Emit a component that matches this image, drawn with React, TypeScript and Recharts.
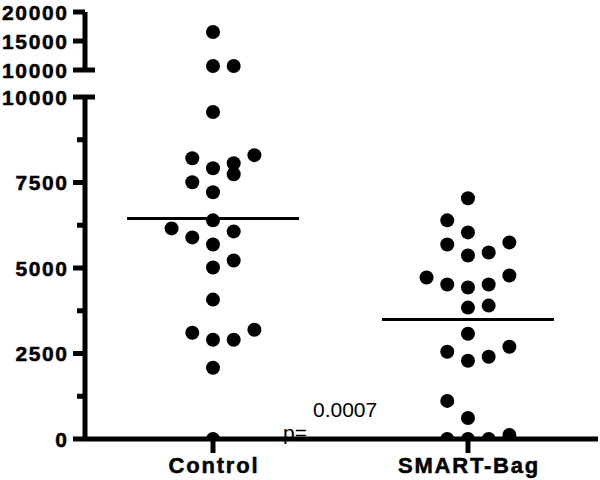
import { ScatterChart, Scatter, XAxis, YAxis } from 'recharts';

// values, with the column slot each dot sits in
const categories = ['Control', 'SMART-Bag'];

const controlValues = [
    16550, 10690, 10690, 9560, 8299, 8211, 8064, 7918, 7742, 7507, 7214, 6393, 6158,
    6070, 5894, 5689, 5220, 5015, 4076, 3196, 3108, 2903, 2903, 2082, 0,
];
const controlSlots = [0, 0, 1, 0, 2, -1, 1, 0, 1, -1, 0, 0, -2, 1, -1, 0, 1, 0, 0, 2, -1, 0, 1, 0, 0];

const smartValues = [
    7038, 6393, 6041, 5748, 5689, 5455, 5367, 4780, 4721, 4516, 4516, 4428, 3900, 3842,
    3079, 2698, 2551, 2405, 2287, 1114, 616, 117, 0, 0, 0,
];
const smartSlots = [0, -1, 0, 2, -1, 1, 0, 2, -2, -1, 1, 0, 1, 0, 0, 2, -1, 1, 0, -1, 0, 2, -1, 0, 1];

const upperTicks = [10000, 15000, 20000];
const lowerTicks = [0, 1250, 2500, 3750, 5000, 6250, 7500, 8750, 10000];
const BREAK = 10000;
const pText = 'p=';
const pValue = '0.0007';

const SLOT_STEP = 0.0812;
const FONT = '"Liberation Sans", Arial, sans-serif';
const AXIS_W = 5;

const groups = [controlValues, smartValues].map((vals, i) => {
    const slots = i === 0 ? controlSlots : smartSlots;
    return vals.map((v, j) => ({ x: i + slots[j] * SLOT_STEP, y: v }));
});
const means = [controlValues, smartValues].map((vals, i) => ({
    x: i,
    y: vals.reduce((a, b) => a + b, 0) / vals.length,
}));

const dot = (props: any) => <circle cx={props.cx} cy={props.cy} r={7} fill="#000" />;
const meanLine = (props: any) => (
    <line x1={props.cx - 86} x2={props.cx + 86} y1={props.cy} y2={props.cy} stroke="#000" strokeWidth={3} />
);

const YTick = (props: any) => {
    const { x, y, payload } = props;
    const v = payload.value;
    const major = v % 2500 === 0;
    const isBreak = v === BREAK;
    return (
        <g>
            <line
                x1={major ? x - 12 : x - 8}
                x2={isBreak ? x + 10 : x}
                y1={y}
                y2={y}
                stroke="#000"
                strokeWidth={AXIS_W}
            />
            {major && (
                <text
                    x={x - 16.5}
                    y={y}
                    dy="0.36em"
                    textAnchor="end"
                    fontFamily={FONT}
                    fontWeight="bold"
                    fontSize={21}
                    letterSpacing={1.6}
                    fill="#000"
                    stroke="#000"
                    strokeWidth={0.5}
                >
                    {v}
                </text>
            )}
        </g>
    );
};

const XTick = (props: any) => {
    const { x, y, payload } = props;
    return (
        <g>
            <line x1={x} x2={x} y1={y} y2={y + 14} stroke="#000" strokeWidth={AXIS_W} />
            <text
                x={x + 1}
                y={y + 34}
                textAnchor="middle"
                fontFamily={FONT}
                fontWeight="bold"
                fontSize={22}
                letterSpacing={1.8}
                fill="#000"
                stroke="#000"
                strokeWidth={0.5}
            >
                {categories[payload.value]}
            </text>
        </g>
    );
};

const xDomain = [-0.502, 1.51];
const axisStyle = { stroke: '#000', strokeWidth: AXIS_W };

export default function App() {
    return (
        <div style={{ position: 'absolute', left: 0, top: 0, width: 600, height: 480, background: '#fff' }}>
            <div style={{ position: 'absolute', left: 0, top: 0 }}>
                <ScatterChart width={600} height={480} margin={{ top: 97, right: 2, bottom: 0, left: 0 }}>
                    <XAxis
                        type="number"
                        dataKey="x"
                        domain={xDomain}
                        ticks={[0, 1]}
                        height={41}
                        tickSize={0}
                        tickMargin={0}
                        tickLine={false}
                        tick={XTick}
                        stroke="#000"
                        strokeWidth={AXIS_W}
                        axisLine={axisStyle}
                        allowDataOverflow
                    />
                    <YAxis
                        type="number"
                        dataKey="y"
                        domain={[0, BREAK]}
                        ticks={lowerTicks}
                        width={85}
                        tickSize={0}
                        tickMargin={0}
                        tickLine={false}
                        tick={YTick}
                        stroke="#000"
                        strokeWidth={AXIS_W}
                        axisLine={axisStyle}
                        allowDataOverflow
                        interval={0}
                    />
                    {groups.map((g, i) => (
                        <Scatter
                            key={`lo-${i}`}
                            data={g.filter((p) => p.y <= BREAK)}
                            shape={dot}
                            isAnimationActive={false}
                        />
                    ))}
                    <Scatter data={means} shape={meanLine} isAnimationActive={false} />
                </ScatterChart>
            </div>
            <div style={{ position: 'absolute', left: 0, top: 0 }}>
                <ScatterChart width={600} height={480} margin={{ top: 12, right: 2, bottom: 410, left: 0 }}>
                    <XAxis type="number" dataKey="x" domain={xDomain} hide />
                    <YAxis
                        type="number"
                        dataKey="y"
                        domain={[BREAK, 20000]}
                        ticks={upperTicks}
                        width={85}
                        tickSize={0}
                        tickMargin={0}
                        tickLine={false}
                        tick={YTick}
                        stroke="#000"
                        strokeWidth={AXIS_W}
                        axisLine={axisStyle}
                        interval={0}
                    />
                    {groups.map((g, i) => (
                        <Scatter
                            key={`hi-${i}`}
                            data={g.filter((p) => p.y > BREAK)}
                            shape={dot}
                            isAnimationActive={false}
                        />
                    ))}
                </ScatterChart>
            </div>
            <svg width={600} height={480} style={{ position: 'absolute', left: 0, top: 0, pointerEvents: 'none' }}>
                <text x={283} y={440} fontFamily={FONT} fontSize={21} fill="#000">
                    {pText}
                </text>
                <text x={313} y={417} fontFamily={FONT} fontSize={21} fill="#000">
                    {pValue}
                </text>
            </svg>
        </div>
    );
}
